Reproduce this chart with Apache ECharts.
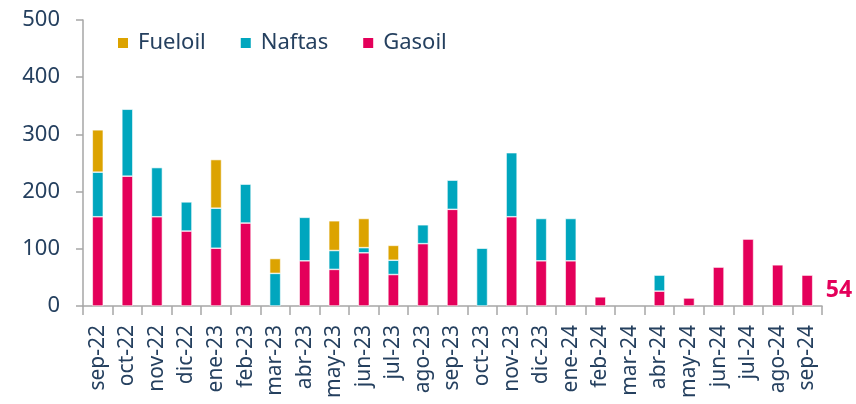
<!DOCTYPE html>
<html>
<head>
<meta charset="utf-8">
<script src="https://cdn.jsdelivr.net/npm/echarts@6/dist/echarts.min.js"></script>
<style>
  html, body { margin: 0; padding: 0; background: #fff; }
  #chart { width: 856px; height: 404px; }
</style>
</head>
<body>
<div id="chart"></div>
<script>
const months = ['sep-22', 'oct-22', 'nov-22', 'dic-22', 'ene-23', 'feb-23', 'mar-23', 'abr-23', 'may-23',
  'jun-23', 'jul-23', 'ago-23', 'sep-23', 'oct-23', 'nov-23', 'dic-23', 'ene-24', 'feb-24', 'mar-24',
  'abr-24', 'may-24', 'jun-24', 'jul-24', 'ago-24', 'sep-24'];

const gasoil = [156, 227, 156, 131, 101, 145, 0, 79, 64, 93, 55, 109, 169, 0, 156, 79, 79, 16, 0, 26, 14, 68, 117, 72, 54];
const naftas = [78, 117, 86, 51, 70, 68, 57, 76, 33, 9, 25, 33, 51, 101, 112, 74, 74, 0, 0, 28, 0, 0, 0, 0, 0];
const fueloil = [74, 0, 0, 0, 85, 0, 26, 0, 52, 51, 26, 0, 0, 0, 0, 0, 0, 0, 0, 0, 0, 0, 0, 0, 0];

const textColor = '#25405f';
const axisColor = '#a6a6a6';
const font = 'Noto Sans';

// los ceros no se dibujan
const clean = arr => arr.map(v => (v === 0 ? null : v));

// último dato con su etiqueta
const gasoilData = clean(gasoil).map((v, i) => i === gasoil.length - 1
  ? { value: v, label: { show: true, position: 'right', distance: 13, color: '#e4005a',
      fontSize: 23, fontWeight: 'bold', fontFamily: font } }
  : v);

const barStyle = { borderColor: '#fff', borderWidth: 0.6 };

const option = {
  animation: false,
  backgroundColor: '#fff',
  grid: { left: 83, right: 34, top: 20, bottom: 98, outerBoundsMode: 'none' },
  legend: {
    data: ['Fueloil', 'Naftas', 'Gasoil'],
    left: 111, top: 27,
    icon: 'rect', itemWidth: 12, itemHeight: 12, itemGap: 33,
    textStyle: { color: textColor, fontSize: 22, fontFamily: font, padding: [0, 0, 0, 4] }
  },
  xAxis: {
    type: 'category',
    data: months,
    axisLine: { lineStyle: { color: axisColor, width: 1.5 } },
    axisTick: { show: true, length: 9, lineStyle: { color: axisColor, width: 1.5 } },
    axisLabel: { rotate: 90, margin: 19, color: textColor, fontSize: 21, fontFamily: font, interval: 0 }
  },
  yAxis: {
    type: 'value',
    min: 0, max: 500, interval: 100,
    splitLine: { show: false },
    axisLine: { show: true, lineStyle: { color: axisColor, width: 1.5 } },
    axisTick: { show: true, length: 7, lineStyle: { color: axisColor, width: 1.5 } },
    axisLabel: { margin: 23, color: textColor, fontSize: 22, fontFamily: font }
  },
  series: [
    { name: 'Gasoil', type: 'bar', stack: 'total', data: gasoilData, barWidth: 11,
      itemStyle: Object.assign({ color: '#e4005a' }, barStyle) },
    { name: 'Naftas', type: 'bar', stack: 'total', data: clean(naftas), barWidth: 11,
      itemStyle: Object.assign({ color: '#00a6be' }, barStyle) },
    { name: 'Fueloil', type: 'bar', stack: 'total', data: clean(fueloil), barWidth: 11,
      itemStyle: Object.assign({ color: '#dca300' }, barStyle) }
  ]
};

const chart = echarts.init(document.getElementById('chart'));
chart.setOption(option);
</script>
</body>
</html>
